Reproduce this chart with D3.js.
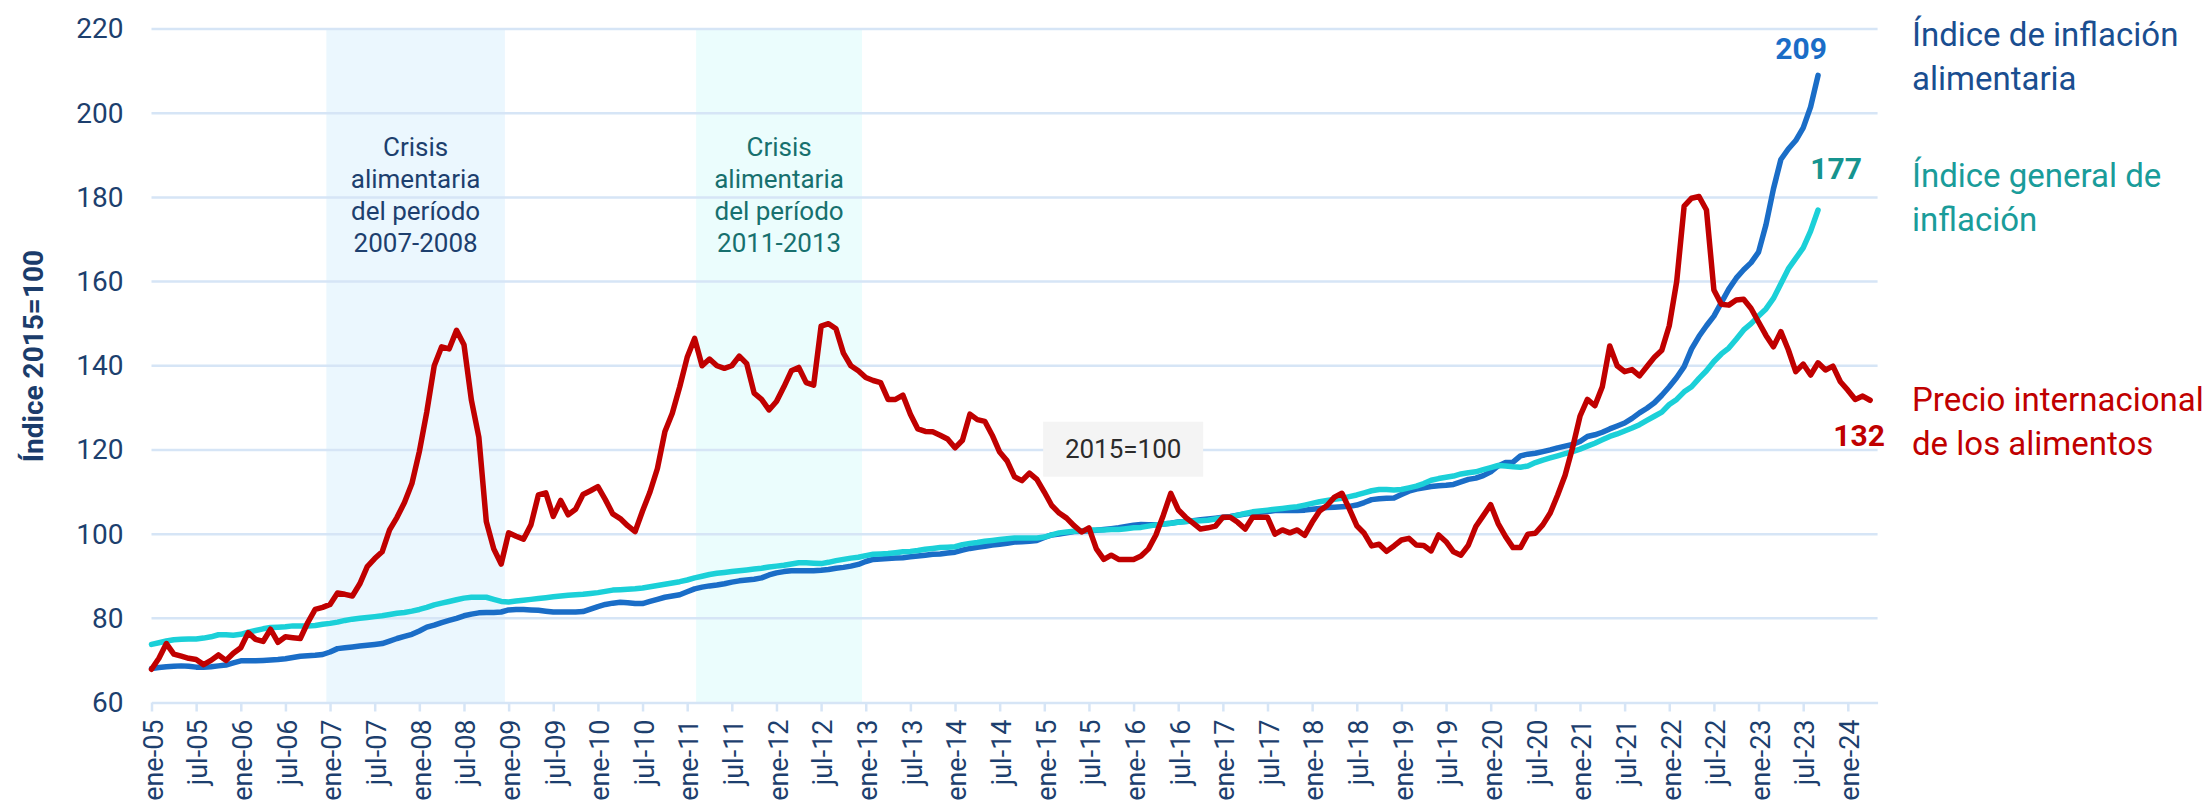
<!DOCTYPE html>
<html lang="es">
<head>
    <meta charset="UTF-8">
    <title>Inflación alimentaria</title>
    <script src="https://cdn.jsdelivr.net/npm/d3@7"></script>
    <style>
        body { margin: 0; background: #ffffff; }
        text { font-family: Roboto, "Noto Sans", sans-serif; }
        .grid line { stroke: #d6e5f6; stroke-width: 2.5px; }
        .axis-x path, .axis-x line { stroke: #d6e5f6; stroke-width: 2.5px; }
        .axis-x text, .axis-y text { fill: #1d3f6e; }
        .series { fill: none; stroke-width: 5.5px; stroke-linejoin: round; stroke-linecap: round; }
    </style>
</head>
<body>
<div id="chart"></div>
<script>
    // months counted from ene-05 (index 0)
    const xTickMonths = d3.range(0, 229, 6);
    const xTickLabels = [
        'ene-05','jul-05','ene-06','jul-06','ene-07','jul-07','ene-08','jul-08','ene-09','jul-09',
        'ene-10','jul-10','ene-11','jul-11','ene-12','jul-12','ene-13','jul-13','ene-14','jul-14',
        'ene-15','jul-15','ene-16','jul-16','ene-17','jul-17','ene-18','jul-18','ene-19','jul-19',
        'ene-20','jul-20','ene-21','jul-21','ene-22','jul-22','ene-23','jul-23','ene-24'
    ];
    const yTicks = [60, 80, 100, 120, 140, 160, 180, 200, 220];

    const seriesNames = ['Índice de inflación alimentaria', 'Índice general de inflación', 'Precio internacional de los alimentos'];

    // Índice de inflación alimentaria (ene-05 .. sep-23)
    const foodCpi = [
        68.1,68.3,68.5,68.6,68.7,68.6,68.4,68.4,68.5,68.7,68.9,69.4,
        69.9,69.9,69.9,70.0,70.1,70.2,70.4,70.7,71.0,71.1,71.2,71.4,
        72.0,72.8,73.0,73.2,73.4,73.6,73.8,74.0,74.6,75.2,75.7,76.2,
        77.0,77.9,78.4,79.0,79.5,80.0,80.6,81.0,81.3,81.4,81.4,81.5,
        82.0,82.1,82.1,82.0,81.9,81.7,81.5,81.5,81.5,81.5,81.6,82.2,
        82.8,83.3,83.6,83.8,83.7,83.5,83.5,84.0,84.5,85.0,85.3,85.6,
        86.3,87.0,87.4,87.7,87.9,88.2,88.6,88.9,89.1,89.3,89.6,90.3,
        90.8,91.1,91.3,91.3,91.3,91.3,91.4,91.6,91.9,92.1,92.4,92.8,
        93.5,94.0,94.1,94.2,94.3,94.4,94.6,94.8,95.0,95.2,95.3,95.5,
        95.7,96.2,96.6,96.9,97.1,97.4,97.6,97.8,98.1,98.2,98.3,98.5,
        99.2,99.8,100.0,100.3,100.6,100.7,100.8,100.9,101.1,101.3,101.5,101.8,
        102.1,102.3,102.2,102.2,102.4,102.6,102.9,103.0,103.2,103.4,103.6,103.8,
        104.0,104.2,104.5,104.8,105.0,105.2,105.4,105.6,105.7,105.6,105.6,105.7,
        105.9,106.1,106.3,106.4,106.5,106.6,106.9,107.5,108.2,108.4,108.5,108.6,
        109.4,110.2,110.7,111.0,111.3,111.5,111.6,111.8,112.4,113.0,113.3,113.9,
        114.8,116.2,117.0,117.1,118.6,119.0,119.2,119.6,120.0,120.5,120.9,121.3,
        122.0,123.2,123.6,124.2,125.0,125.7,126.4,127.5,128.8,129.9,131.2,133.0,
        135.0,137.2,139.8,144.0,147.0,149.5,151.8,155.0,158.2,160.8,162.8,164.5,
        167.0,173.5,182.0,189.0,191.5,193.5,196.5,201.5,209.0
    ];

    // Índice general de inflación (ene-05 .. sep-23)
    const generalCpi = [
        73.8,74.2,74.6,74.9,75.0,75.1,75.1,75.3,75.6,76.1,76.1,76.0,
        76.2,76.7,77.1,77.5,77.8,77.9,78.0,78.2,78.2,78.2,78.3,78.6,
        78.8,79.1,79.5,79.8,80.0,80.2,80.4,80.6,80.9,81.2,81.4,81.7,
        82.1,82.6,83.2,83.6,84.0,84.4,84.8,85.0,85.0,85.0,84.5,84.0,
        83.9,84.1,84.3,84.5,84.7,84.9,85.1,85.3,85.5,85.6,85.7,85.9,
        86.1,86.4,86.7,86.8,86.9,87.0,87.2,87.5,87.8,88.1,88.4,88.7,
        89.1,89.6,90.0,90.4,90.7,90.9,91.1,91.3,91.5,91.7,91.9,92.2,
        92.4,92.6,92.9,93.2,93.2,93.1,93.0,93.3,93.7,94.0,94.3,94.5,
        94.9,95.2,95.3,95.4,95.6,95.8,95.9,96.1,96.4,96.6,96.8,96.9,
        97.0,97.5,97.8,98.0,98.3,98.5,98.7,98.9,99.1,99.1,99.1,99.1,
        99.3,99.8,100.3,100.5,100.7,100.8,100.9,101.0,101.0,101.1,101.1,101.3,
        101.5,101.6,101.9,102.2,102.4,102.6,102.8,103.0,103.1,103.2,103.3,103.6,
        103.9,104.1,104.5,104.9,105.3,105.5,105.7,105.9,106.1,106.3,106.5,106.9,
        107.3,107.7,108.0,108.3,108.5,108.9,109.3,109.8,110.3,110.6,110.6,110.5,
        110.6,111.0,111.4,112.0,112.8,113.2,113.5,113.8,114.3,114.6,114.8,115.3,
        115.8,116.3,116.2,116.0,115.9,116.2,117.0,117.6,118.1,118.6,119.1,119.6,
        120.2,120.9,121.6,122.4,123.2,123.8,124.5,125.2,126.0,127.0,128.0,129.0,
        130.8,132.0,133.8,135.0,137.0,138.8,141.0,142.8,144.2,146.3,148.5,150.0,
        151.8,153.5,156.0,159.5,163.0,165.5,168.0,172.0,177.0
    ];

    // Precio internacional de los alimentos (ene-05 .. abr-24)
    const foodPrice = [
        67.9,70.5,74.0,71.5,71.0,70.5,70.2,69.0,70.0,71.3,70.0,71.7,
        73.0,76.6,75.0,74.5,77.4,74.3,75.6,75.4,75.2,79.0,82.1,82.6,
        83.3,86.0,85.7,85.3,88.2,92.3,94.2,95.8,101.0,104.0,107.5,112.0,
        119.6,129.0,140.0,144.5,144.0,148.4,145.0,131.8,123.0,103.0,96.5,92.9,
        100.3,99.5,98.8,102.2,109.3,109.8,104.2,108.0,104.6,105.9,109.4,110.3,
        111.3,108.2,104.8,103.7,102.0,100.6,105.5,110.0,115.6,124.3,128.7,135.0,
        142.0,146.5,140.0,141.6,140.0,139.4,140.0,142.3,140.5,133.5,132.0,129.5,
        131.5,135.0,138.8,139.6,136.0,135.4,149.4,150.0,148.8,143.0,140.0,138.8,
        137.2,136.5,136.0,132.0,132.0,133.0,128.5,125.0,124.4,124.3,123.5,122.6,
        120.5,122.3,128.5,127.2,126.8,123.5,119.5,117.4,113.6,112.7,114.5,113.0,
        110.0,106.8,105.0,103.8,102.0,100.5,101.5,96.5,94.0,95.0,94.0,94.0,
        94.0,94.8,96.5,99.8,104.5,109.7,105.8,104.0,102.6,101.2,101.5,101.9,
        104.0,104.0,102.8,101.2,104.0,104.0,104.0,100.0,101.0,100.3,101.0,99.7,
        102.8,105.5,106.8,108.8,109.7,106.0,102.0,100.2,97.2,97.6,95.9,97.2,
        98.6,99.0,97.4,97.3,96.0,99.8,98.2,95.8,95.0,97.4,101.8,104.4,
        107.0,102.5,99.4,96.8,96.8,100.0,100.2,102.2,105.0,109.3,114.0,120.5,
        128.0,132.0,130.5,135.0,144.7,140.0,138.6,139.1,137.6,139.8,142.0,143.7,
        149.5,160.0,177.9,179.8,180.2,177.0,158.0,154.6,154.4,155.6,155.8,153.6,
        150.4,147.2,144.5,148.1,143.8,138.6,140.4,137.8,140.7,139.0,139.9,136.2,
        134.2,132.0,132.8,131.8
    ];

    // crisis periods, as month indexes (start, end)
    const crisisBands = [
        { start: 23.5, end: 47.5, lines: ['Crisis', 'alimentaria', 'del período', '2007-2008'] },
        { start: 73.2, end: 95.5, lines: ['Crisis', 'alimentaria', 'del período', '2011-2013'] }
    ];
</script>

<script>
    const width = 2210;
    const height = 806;

    const svg = d3.select('#chart')
        .append('svg')
        .attr('width', width)
        .attr('height', height);

    const x = d3.scaleLinear()
        .domain([0, 232])
        .range([151.5, 151.5 + 232 * 7.44]);

    const y = d3.scaleLinear()
        .domain([60, 220])
        .range([702.5, 29]);

    // crisis bands
    const bandFill = ['#ebf7fe', '#ebfdfd'];
    const bandText = ['#1d3f6e', '#17706e'];

    crisisBands.forEach((b, i) => {
        svg.append('rect')
            .attr('x', x(b.start))
            .attr('y', y(220))
            .attr('width', x(b.end) - x(b.start))
            .attr('height', y(60) - y(220))
            .attr('fill', bandFill[i]);
    });

    // gridlines
    svg.append('g')
        .attr('class', 'grid')
        .selectAll('line')
        .data(yTicks.filter(d => d > 60))
        .enter()
        .append('line')
        .attr('x1', x.range()[0])
        .attr('x2', x.range()[1])
        .attr('y1', d => y(d))
        .attr('y2', d => y(d));

    crisisBands.forEach((b, i) => {
        const t = svg.append('text')
            .attr('text-anchor', 'middle')
            .attr('font-size', 26)
            .attr('fill', bandText[i]);
        b.lines.forEach((line, j) => {
            t.append('tspan')
                .attr('x', (x(b.start) + x(b.end)) / 2)
                .attr('y', 156 + j * 32)
                .text(line);
        });
    });

    // x axis
    const xAxis = svg.append('g')
        .attr('class', 'axis-x')
        .attr('transform', `translate(0,${y(60)})`)
        .call(
            d3.axisBottom(x)
                .tickValues(xTickMonths)
                .tickFormat((d, i) => xTickLabels[i])
                .tickSize(9)
                .tickSizeOuter(0)
        );

    xAxis.selectAll('text')
        .attr('font-size', 27)
        .attr('font-family', 'Roboto, sans-serif')
        .attr('text-anchor', 'end')
        .attr('transform', 'rotate(-90)')
        .attr('x', -17)
        .attr('y', 0)
        .attr('dy', '0.4em');

    // y axis labels
    const yAxis = svg.append('g')
        .attr('class', 'axis-y')
        .attr('transform', `translate(${x.range()[0]},0)`)
        .call(d3.axisLeft(y).tickValues(yTicks).tickSize(0).tickPadding(28));

    yAxis.select('.domain').remove();
    yAxis.selectAll('text')
        .attr('font-size', 28)
        .attr('font-family', 'Roboto, sans-serif');

    svg.append('text')
        .attr('transform', 'translate(43,356) rotate(-90)')
        .attr('text-anchor', 'middle')
        .attr('font-size', 28)
        .attr('font-weight', 'bold')
        .attr('fill', '#1b3c6b')
        .text('Índice 2015=100');

    // 2015=100 note
    const noteX = x(130.6);
    const noteY = y(120.3);
    svg.append('rect')
        .attr('x', noteX - 80)
        .attr('y', noteY - 27)
        .attr('width', 160)
        .attr('height', 55)
        .attr('fill', '#f4f4f4');
    svg.append('text')
        .attr('x', noteX)
        .attr('y', noteY + 9)
        .attr('text-anchor', 'middle')
        .attr('font-size', 26)
        .attr('fill', '#2b2b2b')
        .text('2015=100');

    // lines
    const line = d3.line()
        .x((d, i) => x(i))
        .y(d => y(d));

    const seriesData = [foodCpi, generalCpi, foodPrice];
    const lineColors = ['#1a6dc7', '#1bd0d8', '#c00000'];

    seriesData.forEach((s, i) => {
        svg.append('path')
            .datum(s)
            .attr('class', 'series')
            .attr('stroke', lineColors[i])
            .attr('d', line);
    });

    // end values
    const labelColors = ['#1a6dc7', '#16948f', '#c00000'];
    const labelOffsets = [[-17, -16], [18, -31], [-11, 46]];

    seriesData.forEach((s, i) => {
        const last = s.length - 1;
        svg.append('text')
            .attr('x', x(last) + labelOffsets[i][0])
            .attr('y', y(s[last]) + labelOffsets[i][1])
            .attr('text-anchor', 'middle')
            .attr('font-size', 30)
            .attr('font-weight', 'bold')
            .attr('fill', labelColors[i])
            .text(Math.round(s[last]));
    });

    // legend on the right
    const legendColors = ['#1a4e90', '#1a9c9a', '#c00000'];
    const legendLines = [
        ['Índice de inflación', 'alimentaria'],
        ['Índice general de', 'inflación'],
        ['Precio internacional', 'de los alimentos']
    ];
    const legendTop = [46, 187, 411];

    legendLines.forEach((lines, i) => {
        lines.forEach((l, j) => {
            svg.append('text')
                .attr('x', 1912)
                .attr('y', legendTop[i] + j * 44)
                .attr('font-size', 33)
                .attr('fill', legendColors[i])
                .text(l);
        });
    });
</script>
</body>
</html>
